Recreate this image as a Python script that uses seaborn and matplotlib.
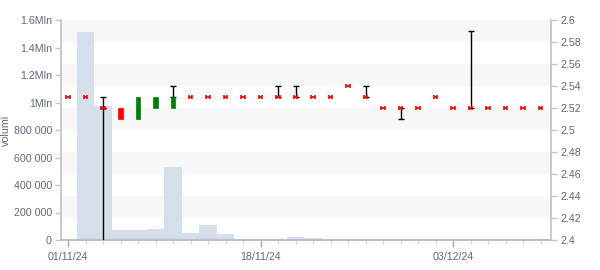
import matplotlib
matplotlib.use("Agg")
import matplotlib.pyplot as plt
import matplotlib.transforms as mtransforms
from matplotlib.patches import Rectangle
import numpy as np
import pandas as pd
import seaborn as sns

# ---- data ----
dates = ["01/11/24", "04/11/24", "05/11/24", "06/11/24", "07/11/24", "08/11/24", "11/11/24",
         "12/11/24", "13/11/24", "14/11/24", "15/11/24", "18/11/24", "19/11/24", "20/11/24",
         "21/11/24", "22/11/24", "25/11/24", "26/11/24", "27/11/24", "28/11/24", "29/11/24",
         "02/12/24", "03/12/24", "04/12/24", "05/12/24", "06/12/24", "09/12/24", "10/12/24"]
open_ = [2.53, 2.53, 2.52, 2.52, 2.51, 2.52, 2.52, 2.53, 2.53, 2.53, 2.53, 2.53, 2.53, 2.53,
         2.53, 2.53, 2.54, 2.53, 2.52, 2.52, 2.52, 2.53, 2.52, 2.52, 2.52, 2.52, 2.52, 2.52]
close = [2.53, 2.53, 2.52, 2.51, 2.53, 2.53, 2.53, 2.53, 2.53, 2.53, 2.53, 2.53, 2.53, 2.53,
         2.53, 2.53, 2.54, 2.53, 2.52, 2.52, 2.52, 2.53, 2.52, 2.52, 2.52, 2.52, 2.52, 2.52]
high = [2.53, 2.53, 2.53, 2.52, 2.53, 2.53, 2.54, 2.53, 2.53, 2.53, 2.53, 2.53, 2.54, 2.54,
        2.53, 2.53, 2.54, 2.54, 2.52, 2.52, 2.52, 2.53, 2.52, 2.59, 2.52, 2.52, 2.52, 2.52]
low = [2.53, 2.53, 2.39, 2.51, 2.51, 2.52, 2.52, 2.53, 2.53, 2.53, 2.53, 2.53, 2.53, 2.53,
       2.53, 2.53, 2.54, 2.53, 2.52, 2.51, 2.52, 2.53, 2.52, 2.52, 2.52, 2.52, 2.52, 2.52]
volume = [10000, 1510000, 975000, 73000, 73000, 80000, 530000, 53000, 109000, 44000,
          4000, 4000, 4000, 22000, 15000, 3000, 3000, 3000, 2000, 2000, 1000, 1000,
          1000, 1000, 1000, 1000, 1000, 1000]
xtick_labels = ["01/11/24", "18/11/24", "03/12/24"]
vol_ticks = [0, 200000, 400000, 600000, 800000, 1000000, 1200000, 1400000, 1600000]
vol_tick_labels = ["0", "200 000", "400 000", "600 000", "800 000", "1Mln", "1.2Mln", "1.4Mln", "1.6Mln"]
price_ticks = [2.4, 2.42, 2.44, 2.46, 2.48, 2.5, 2.52, 2.54, 2.56, 2.58, 2.6]
price_tick_labels = ["2.4", "2.42", "2.44", "2.46", "2.48", "2.5", "2.52", "2.54", "2.56", "2.58", "2.6"]

sns.set_theme(style="white")
plt.rcParams["font.family"] = ["Liberation Sans", "DejaVu Sans"]

TXT = "#5f6877"
AX = "#c0c4c8"
FS = 7.7

fig = plt.figure(figsize=(6, 2.7), dpi=100)
ax = fig.add_axes([61 / 600, 30 / 270, 490 / 600, 220 / 270])
ax2 = ax.twinx()

df = pd.DataFrame({"i": np.arange(len(dates)), "date": dates, "open": open_, "close": close,
                   "high": high, "low": low, "volume": volume})

# background bands (price-axis based)
tr = mtransforms.blended_transform_factory(ax.transAxes, ax2.transData)
for k in range(0, len(price_ticks) - 1, 2):
    lo, hi = price_ticks[-2 - k], price_ticks[-1 - k]
    ax.add_patch(Rectangle((0, lo), 1, hi - lo, transform=tr, facecolor="#f7f7f7",
                           edgecolor="none", zorder=0))

# volume bars
sns.barplot(data=df, x="i", y="volume", ax=ax, color="#d5dfe9", saturation=1,
            width=1.0, linewidth=0, native_scale=True, zorder=1)

# candles
w = 0.28
for _, r in df.iterrows():
    x = r["i"]
    o, c, h, l = r["open"], r["close"], r["high"], r["low"]
    top, bot = max(o, c), min(o, c)
    if h > top:
        ax2.errorbar([x], [top], yerr=[[0], [h - top]], fmt="none", ecolor="black",
                     elinewidth=1, capsize=2.0, capthick=1, zorder=3)
    if l < bot:
        ax2.errorbar([x], [bot], yerr=[[bot - l], [0]], fmt="none", ecolor="black",
                     elinewidth=1, capsize=2.0, capthick=1, zorder=3)
    if abs(c - o) < 1e-9:
        ax2.errorbar([x], [o], xerr=[[0.1], [0.1]], fmt="none", ecolor="red",
                     elinewidth=1.3, capsize=1.4, capthick=1.2, zorder=4)
    else:
        col = "#008000" if c > o else "#ff0000"
        ax2.add_patch(Rectangle((x - w / 2, bot), w, top - bot, facecolor=col,
                                edgecolor=col, linewidth=0.5, zorder=4))

ax.set_xlim(-0.4, 27.6)
ax.set_ylim(0, 1600000)
ax2.set_ylim(2.4, 2.6)

ax.set_yticks(vol_ticks)
ax.set_yticklabels(vol_tick_labels)
ax2.set_yticks(price_ticks)
ax2.set_yticklabels(price_tick_labels)

major_idx = [dates.index(d) for d in xtick_labels]
ax.set_xticks(major_idx)
ax.set_xticklabels(xtick_labels)
ax.set_xticks(list(range(len(dates))), minor=True)
ax.set_xlabel("")
ax.set_ylabel("volumi", color=TXT, fontsize=FS)
ax.yaxis.set_label_coords(-0.103, 0.5)

for a in (ax, ax2):
    for s in a.spines.values():
        s.set_visible(False)
    a.grid(False)
ax.spines["left"].set_visible(True)
ax.spines["left"].set_color(AX)
ax.spines["bottom"].set_visible(True)
ax.spines["bottom"].set_color("#b8c0cc")
ax.spines["bottom"].set_linewidth(1.5)
ax2.spines["right"].set_visible(True)
ax2.spines["right"].set_color(AX)

ax.tick_params(axis="y", which="major", left=True, length=4, width=1, color=AX,
               labelsize=FS, labelcolor=TXT, pad=2.5)
ax2.tick_params(axis="y", which="major", right=True, length=4, width=1, color=AX,
                labelsize=FS, labelcolor=TXT, pad=2.5)
ax.tick_params(axis="x", which="major", bottom=True, length=5, width=1, color="#a0a8b4",
               labelsize=FS, labelcolor=TXT, pad=4)
ax.tick_params(axis="x", which="minor", bottom=True, length=3, width=0.8, color="#d0d4d8")

fig.savefig("out.png", dpi=100, facecolor="white")
